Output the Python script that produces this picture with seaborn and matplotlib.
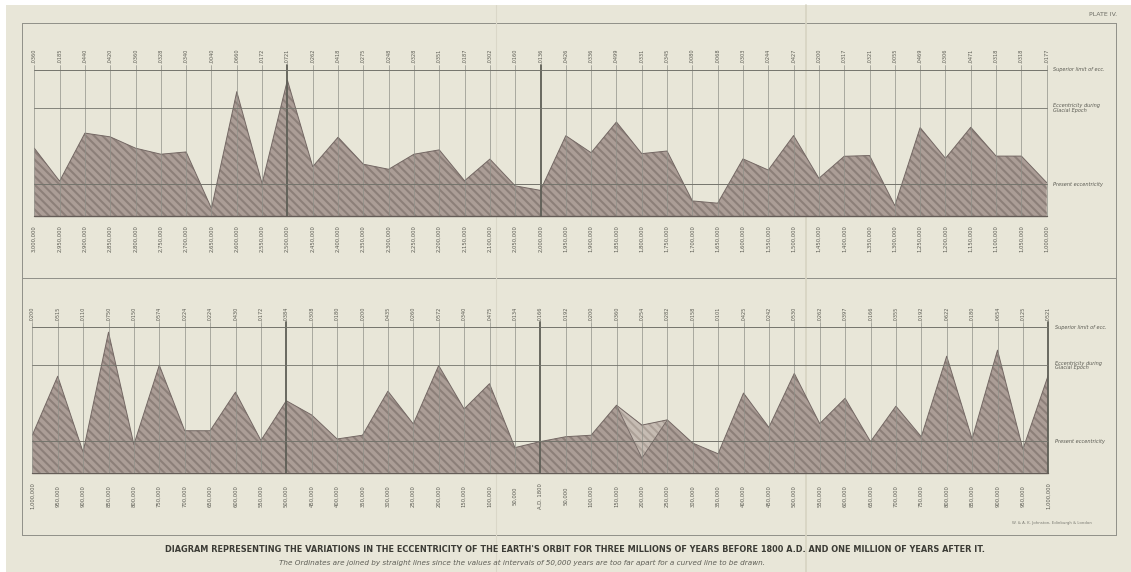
import numpy as np
import pandas as pd
import matplotlib
matplotlib.use("Agg")
import matplotlib.pyplot as plt
from matplotlib.patches import Rectangle
from matplotlib.lines import Line2D
import seaborn as sns

# ---------------------------------------------------------------- data
# Upper diagram: 3,000,000 to 1,000,000 years before A.D. 1800, every 50,000 years
years_upper = [3000000, 2950000, 2900000, 2850000, 2800000, 2750000, 2700000,
               2650000, 2600000, 2550000, 2500000, 2450000, 2400000, 2350000,
               2300000, 2250000, 2200000, 2150000, 2100000, 2050000, 2000000,
               1950000, 1900000, 1850000, 1800000, 1750000, 1700000, 1650000,
               1600000, 1550000, 1500000, 1450000, 1400000, 1350000, 1300000,
               1250000, 1200000, 1150000, 1100000, 1050000, 1000000]
ecc_upper = [0.0360, 0.0185, 0.0440, 0.0420, 0.0360, 0.0328, 0.0340, 0.0040,
             0.0660, 0.0172, 0.0721, 0.0262, 0.0418, 0.0275, 0.0248, 0.0328,
             0.0351, 0.0187, 0.0302, 0.0160, 0.0136, 0.0426, 0.0336, 0.0499,
             0.0331, 0.0345, 0.0080, 0.0068, 0.0303, 0.0244, 0.0427, 0.0200,
             0.0317, 0.0321, 0.0055, 0.0469, 0.0306, 0.0471, 0.0318, 0.0318,
             0.0177]

# Lower diagram: 1,000,000 years before to 1,000,000 years after A.D. 1800
years_lower = ["1,000,000", "950,000", "900,000", "850,000", "800,000",
               "750,000", "700,000", "650,000", "600,000", "550,000",
               "500,000", "450,000", "400,000", "350,000", "300,000",
               "250,000", "200,000", "150,000", "100,000", "50,000",
               "A.D. 1800", "50,000", "100,000", "150,000", "200,000",
               "250,000", "300,000", "350,000", "400,000", "450,000",
               "500,000", "550,000", "600,000", "650,000", "700,000",
               "750,000", "800,000", "850,000", "900,000", "950,000",
               "1,000,000"]
ecc_lower = [0.0200, 0.0515, 0.0110, 0.0750, 0.0150, 0.0574, 0.0224, 0.0224,
             0.0430, 0.0172, 0.0384, 0.0308, 0.0180, 0.0200, 0.0435, 0.0260,
             0.0572, 0.0340, 0.0475, 0.0134, 0.0166, 0.0192, 0.0200, 0.0360,
             0.0254, 0.0282, 0.0158, 0.0101, 0.0425, 0.0242, 0.0530, 0.0262,
             0.0397, 0.0166, 0.0355, 0.0192, 0.0622, 0.0180, 0.0654, 0.0125,
             0.0521]

# second determination of a short stretch of the lower curve
alt_steps = [23, 24, 25]
alt_ecc = [0.0360, 0.0078, 0.0282]

# reference levels
SUPERIOR = 0.0775
GLACIAL = 0.0573
PRESENT = 0.0168

level_text = ["Superior limit of ecc.",
              "Eccentricity during\nGlacial Epoch",
              "Present eccentricity"]

TITLE = ("DIAGRAM REPRESENTING THE VARIATIONS IN THE ECCENTRICITY OF THE EARTH'S ORBIT "
         "FOR THREE MILLIONS OF YEARS BEFORE 1800 A.D. AND ONE MILLION OF YEARS AFTER IT.")
SUBTITLE = ("The Ordinates are joined by straight lines since the values at intervals of "
            "50,000 years are too far apart for a curved line to be drawn.")

# ---------------------------------------------------------------- style
PAPER = "#e8e6d8"
FILL = "#ab9d96"
HATCH = "#8c7f79"
EDGE = "#746864"
INK = "#5a5a52"
GRID = "#909088"

sns.set_theme(style="white")
plt.rcParams["font.family"] = ["DejaVu Sans"]
plt.rcParams["hatch.linewidth"] = 1.5

W, H = 1131, 572
fig = plt.figure(figsize=(W / 100, H / 100), dpi=100, facecolor="white")
fig.patches.append(Rectangle((6 / W, 0), 1, 1 - 5 / H, transform=fig.transFigure,
                             facecolor=PAPER, edgecolor="none", zorder=-10))


def fx(px):
    return px / W


def fy(py):
    return 1 - py / H


def fig_line(x0, y0, x1, y1, lw=0.7, color=GRID, alpha=1.0):
    fig.add_artist(Line2D([fx(x0), fx(x1)], [fy(y0), fy(y1)], transform=fig.transFigure,
                          lw=lw, color=color, alpha=alpha, zorder=-5))


# plate frame and fold marks
fig_line(22, 23, 1116, 23)
fig_line(22, 23, 22, 535)
fig_line(1116, 23, 1116, 535)
fig_line(22, 278, 1116, 278)
fig_line(22, 535, 1116, 535)
fig_line(496, 5, 496, 572, lw=0.8, color="#dad7c8")
fig_line(806, 5, 806, 572, lw=1.2, color="#d6d3c2")


def draw_panel(left, right, top, base, ecc, year_labels, thick, alt=None):
    ax = fig.add_axes([fx(left), fy(base), fx(right) - fx(left), (base - top) / H])
    ax.patch.set_alpha(0)

    def ydat(py):
        return (base - py) / (base - top) * SUPERIOR

    n = len(ecc)
    df = pd.DataFrame({"step": np.arange(n), "ecc": ecc})

    ax.fill_between(df["step"], 0, df["ecc"], facecolor=FILL, edgecolor=HATCH,
                    hatch="\\\\\\\\", linewidth=0, zorder=2)
    if alt is not None:
        a_steps, a_vals = alt
        main_part = df.set_index("step").loc[a_steps, "ecc"].values
        ax.fill_between(a_steps, a_vals, main_part, facecolor="#c6bcb3",
                        edgecolor="#aca198", hatch="\\\\\\\\", linewidth=0, zorder=3)
        sns.lineplot(x=a_steps, y=a_vals, ax=ax, color=EDGE, lw=0.6, zorder=4)
    sns.lineplot(data=df, x="step", y="ecc", ax=ax, color=EDGE, lw=0.7, zorder=4)
    ax.set_xlim(0, n - 1)
    ax.set_ylim(0, SUPERIOR)
    ax.axis("off")

    # ordinates
    for i in range(n):
        lw = 1.3 if i in thick else 0.5
        col = "#5e5e56" if i in thick else GRID
        ax.plot([i, i], [0, ydat(top - 5)], color=col, lw=lw, zorder=5, clip_on=False)

    # reference levels
    for lvl, lw in [(SUPERIOR, 0.7), (GLACIAL, 0.6), (PRESENT, 0.7)]:
        ax.plot([0, n - 1], [lvl, lvl], color="#74746c", lw=lw, zorder=5, clip_on=False)
    ax.plot([0, n - 1], [0, 0], color="#655d58", lw=1.0, zorder=5, clip_on=False)

    for lvl, txt in zip([SUPERIOR, GLACIAL, PRESENT], level_text):
        ax.text(n - 1 + 0.25, lvl, txt, fontsize=3.6, style="italic", color=INK,
                ha="left", va="center", clip_on=False, linespacing=0.9)

    # value labels above, dates below
    for i in range(n):
        ax.text(i, ydat(top - 14), f".{int(round(ecc[i] * 10000)):04d}", rotation=90,
                fontsize=3.6, color=INK, ha="center", va="center", clip_on=False)
        ax.text(i, ydat(base + 23), year_labels[i], rotation=90,
                fontsize=3.8, color=INK, ha="center", va="center", clip_on=False)
    return ax


upper_labels = [f"{y:,}" for y in years_upper]
draw_panel(34.3, 1046.7, 70, 216, ecc_upper, upper_labels, thick={10, 20})
draw_panel(32.3, 1048.3, 327.5, 472.7, ecc_lower, years_lower, thick={10, 20, 40},
           alt=(alt_steps, alt_ecc))

fig.text(fx(575), fy(549), TITLE, ha="center", va="center", fontsize=5.9,
         fontweight="bold", color="#3c3c36")
fig.text(fx(522), fy(563), SUBTITLE, ha="center", va="center", fontsize=5.2,
         style="italic", color="#5e5e56")
fig.text(fx(1103), fy(14), "PLATE IV.", ha="center", va="center", fontsize=4.5,
         color="#6a6a62")
fig.text(fx(1052), fy(523), "W. & A. K. Johnston, Edinburgh & London", ha="center",
         va="center", fontsize=2.8, color="#7a7a72")

fig.savefig("out.png", dpi=100, facecolor=fig.get_facecolor())
